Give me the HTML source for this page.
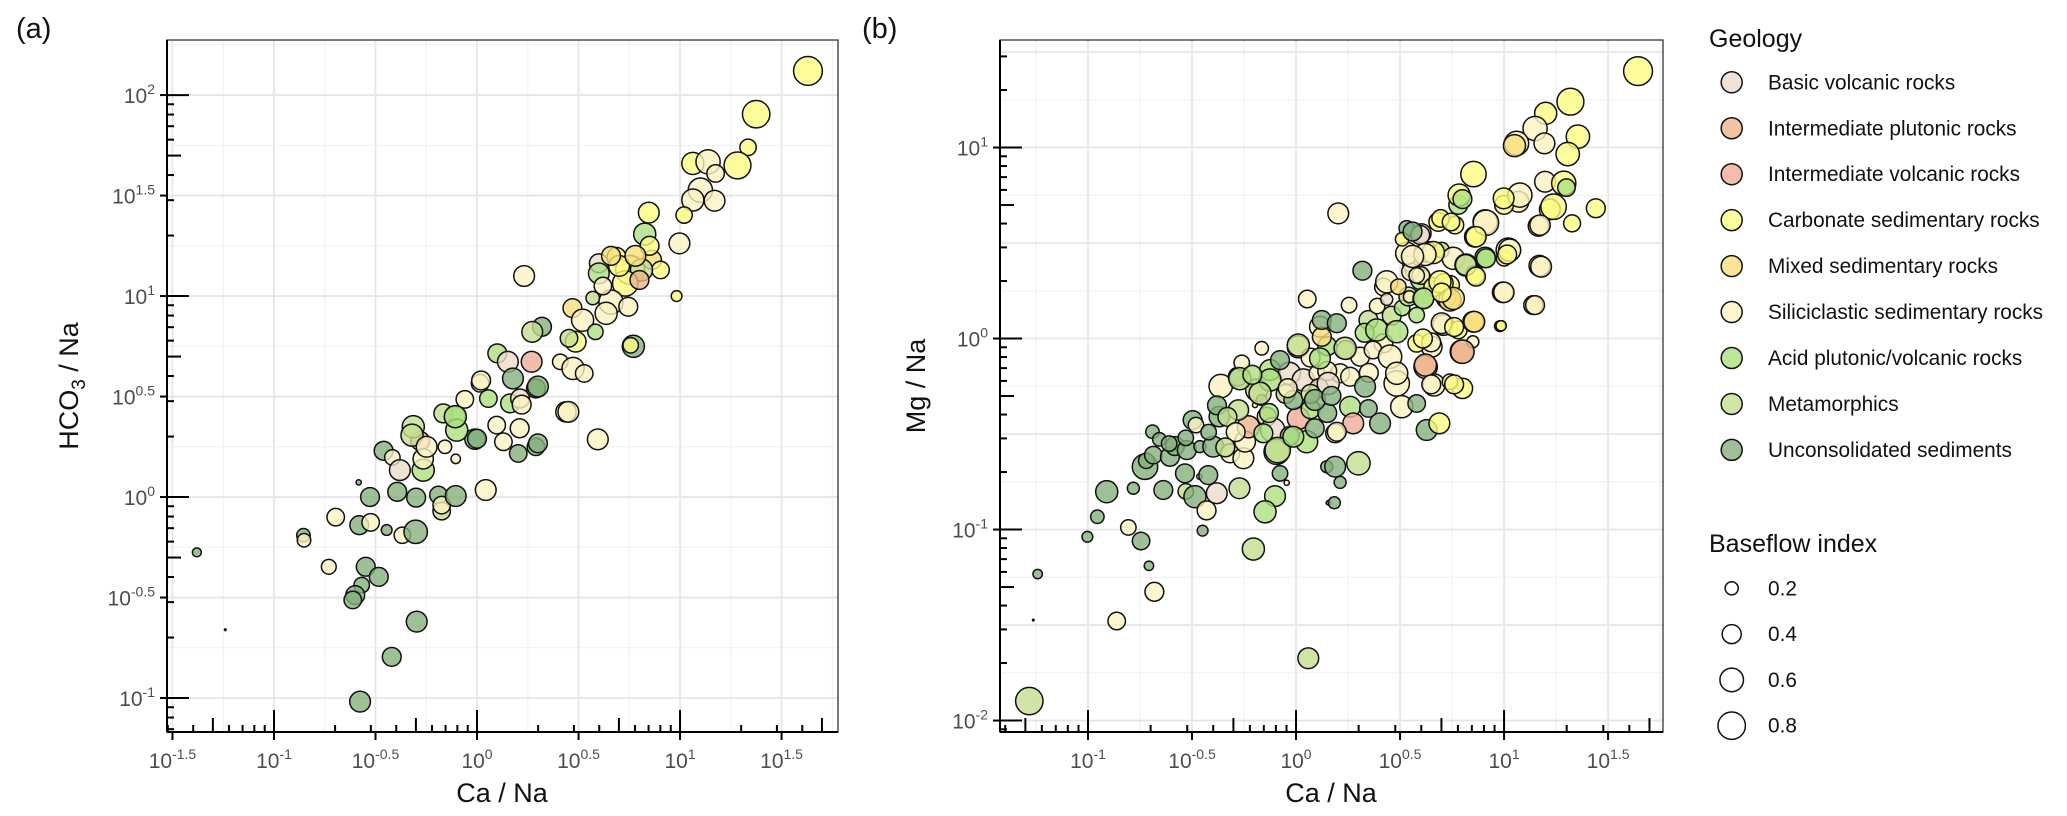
<!DOCTYPE html>
<html><head><meta charset="utf-8">
<style>
html,body{margin:0;padding:0;background:#fff;}
svg{display:block;font-family:"Liberation Sans",Arial,sans-serif;}
</style></head>
<body>
<svg id="chart" xmlns="http://www.w3.org/2000/svg" width="2067" height="816" viewBox="0 0 2067 816">
<rect x="0" y="0" width="2067" height="816" fill="#fff"/>
<g id="panelA"></g>
<g id="panelB"></g>
<g id="legend"></g>
</svg>
<script>
// ---------- DATA (log10 exponents of ratios) ----------
const geologyCategories = ["BV","IP","IV","C","Mx","S","A","M","U"];
const geologyLabels = ["Basic volcanic rocks","Intermediate plutonic rocks","Intermediate volcanic rocks","Carbonate sedimentary rocks","Mixed sedimentary rocks","Siliciclastic sedimentary rocks","Acid plutonic/volcanic rocks","Metamorphics","Unconsolidated sediments"];
const baseflowLegendValues = [0.2,0.4,0.6,0.8];
const xTicksA = [-1.5,-1,-0.5,0,0.5,1,1.5];
const yTicksA = [-1,-0.5,0,0.5,1,1.5,2];
const xTicksB = [-1,-0.5,0,0.5,1,1.5];
const yTicksB = [-2,-1,0,1];

// Panel (a): log10(Ca/Na), log10(HCO3/Na), baseflow index, geology
const aLogCaNa = [-1.38,-1.24,-0.855,-0.852,-0.696,-0.73,-0.58,-0.524,-0.445,-0.368,-0.302,-0.548,-0.484,-0.568,-0.60,-0.612,-0.297,-0.42,-0.576,-0.583,-0.527,-0.393,-0.30,-0.19,-0.174,-0.174,-0.105,0.043,-0.46,-0.417,-0.38,-0.265,-0.28,-0.265,-0.314,-0.32,-0.248,-0.158,-0.105,-0.01,-0.166,-0.108,-0.10,-0.06,0.056,0.13,0.097,0.21,0.203,0.29,0.438,0.163,0.212,0.29,0.015,
1.63,1.375,1.335,1.283,1.063,1.138,1.175,1.10,1.063,1.17,1.02,0.997,0.846,0.826,0.983,0.77,0.757,0.60,0.60,0.687,0.754,0.862,0.904,0.81,0.73,0.80,0.57,0.66,0.745,0.47,0.52,0.636,0.583,0.486,0.453,0.32,0.272,0.232,0.10,0.152,0.269,0.177,0.30,0.02,0.41,0.473,0.528,0.45,0.595,0.22,0.00,0.30,-0.107,
0.70,0.66,0.85,0.78,0.62];
const aLogHco3Na = [-0.275,-0.66,-0.19,-0.215,-0.10,-0.347,-0.14,-0.126,-0.164,-0.19,-0.173,-0.347,-0.397,-0.438,-0.488,-0.512,-0.62,-0.795,-1.018,0.073,0.0,0.026,-0.003,0.01,-0.07,-0.04,0.005,0.035,0.23,0.197,0.134,0.134,0.279,0.19,0.35,0.308,0.25,0.25,0.19,0.288,0.416,0.40,0.333,0.486,0.49,0.275,0.358,0.342,0.217,0.25,0.424,0.466,0.49,0.54,0.566,
2.12,1.905,1.74,1.65,1.66,1.668,1.61,1.527,1.478,1.474,1.403,1.262,1.415,1.308,1.0,0.75,0.755,1.163,1.113,1.195,1.13,1.18,1.13,1.13,1.063,1.08,0.99,0.97,0.947,0.94,0.88,0.914,0.822,0.773,0.79,0.847,0.822,1.1,0.715,0.673,0.673,0.59,0.55,0.58,0.673,0.64,0.615,0.424,0.287,0.46,0.29,0.267,0.40,
1.15,1.20,1.25,1.20,1.05];
const aBaseflow = [0.10,0.003,0.21,0.21,0.34,0.25,0.39,0.34,0.14,0.30,0.59,0.39,0.39,0.27,0.39,0.34,0.47,0.39,0.47,0.04,0.39,0.39,0.39,0.34,0.34,0.34,0.47,0.47,0.39,0.27,0.47,0.53,0.39,0.45,0.53,0.53,0.47,0.21,0.11,0.45,0.39,0.47,0.53,0.34,0.34,0.34,0.34,0.39,0.34,0.34,0.45,0.39,0.39,0.39,0.34,
0.88,0.80,0.30,0.77,0.53,0.63,0.34,0.63,0.53,0.47,0.30,0.47,0.47,0.53,0.14,0.53,0.27,0.39,0.47,0.39,0.88,0.39,0.34,0.53,0.69,0.39,0.21,0.63,0.39,0.39,0.53,0.53,0.27,0.47,0.34,0.39,0.47,0.47,0.39,0.47,0.47,0.47,0.47,0.39,0.27,0.53,0.34,0.47,0.47,0.39,0.39,0.39,0.53,
0.47,0.39,0.39,0.47,0.34];
const aGeology = ["U","U","U","S","S","S","U","S","U","S","U","U","U","U","U","U","U","U","U","U","U","U","U","U","M","S","U","S","U","S","BV","A","IV","S","M","M","S","S","S","U","M","A","A","S","A","S","S","S","U","U","S","A","BV","U","S",
"C","C","C","C","C","S","S","S","S","S","C","S","C","A","C","U","C","BV","A","C","C","Mx","C","M","C","IP","M","S","S","Mx","S","S","A","C","M","U","M","S","A","BV","IV","U","U","S","S","S","S","S","S","S","U","U","A",
"C","Mx","C","Mx","S"];

// Panel (b): log10(Ca/Na), log10(Mg/Na), baseflow index, geology
const bLogCaNa = [-1.282,-1.263,-1.242,-1.003,-0.955,-0.91,-0.782,-0.806,-0.745,-0.707,-0.681,-0.862,-0.449,-0.205,0.059,-0.726,-0.72,-0.69,-0.657,-0.686,-0.606,-0.582,-0.638,-0.534,-0.525,-0.497,-0.481,-0.462,-0.465,-0.422,-0.53,-0.486,-0.43,-0.381,-0.272,-0.369,-0.398,-0.317,-0.253,-0.245,-0.229,-0.277,-0.362,-0.28,-0.261,-0.165,-0.125,-0.189,-0.165,-0.197,-0.141,-0.112,-0.093,-0.077,-0.045,-0.101,-0.149,-0.032,0.035,0.011,0.051,0.011,-0.05,-0.077,0.148,0.155,
-0.125,-0.173,-0.157,-0.013,0.1,0.212,0.308,0.42,0.348,0.188,
-0.27,-0.21,-0.38,-0.33,-0.29,-0.34,-0.42,-0.53,-0.61,0.07,0.09,0.11,-0.03,0.15,-0.04,0.07,-0.13,0.15,0.26,0.35,0.33,0.15,0.07,0.24,0.37,0.46,0.39,0.51,0.60,0.42,0.74,0.72,0.56,0.55,0.55,0.60,0.66,0.71,0.54,
0.203,0.319,0.054,0.255,0.011,0.115,0.124,0.124,0.196,0.236,0.115,0.155,0.332,0.26,0.348,0.404,0.275,0.196,-0.088,0.188,0.30,0.212,0.184,0.388,0.484,0.452,0.484,0.508,0.58,0.628,0.689,0.623,0.663,0.797,0.80,0.74,0.652,0.58,0.708,0.78,0.852,0.85,0.98,0.436,0.492,0.436,0.545,0.612,0.58,0.532,0.628,0.604,0.532,0.51,0.684,0.764,0.70,0.756,0.817,0.86,0.909,0.86,0.909,0.692,0.74,1.02,1.0,0.994,1.14,1.17,1.165,1.22,1.069,1.00,0.78,0.58,0.484,0.091,0.17,-0.013,
1.644,1.319,1.2,1.355,1.149,1.194,1.06,1.05,1.306,0.853,1.197,1.287,1.30,1.238,1.076,0.998,1.441,1.173,1.327,0.784,0.80,0.913,0.865,0.695,0.745,0.597,0.56,0.913,0.816,0.865,1.027,1.015,1.178,0.999,1.149,0.986,0.756,0.613,0.70,0.857,0.70,0.76,0.8,0.622,0.65,0.61,0.76,0.65,0.66,0.62,0.56];
const bLogMgNa = [-1.898,-1.474,-1.233,-1.038,-0.933,-0.802,-0.784,-0.989,-1.06,-1.19,-1.326,-1.479,-1.006,-1.102,-1.674,-0.671,-0.64,-0.488,-0.528,-0.61,-0.619,-0.563,-0.793,-0.706,-0.584,-0.427,-0.453,-0.566,-0.723,-0.715,-0.80,-0.828,-0.90,-0.81,-0.784,-0.409,-0.566,-0.601,-0.627,-0.54,-0.462,-0.374,-0.249,-0.2,-0.127,-0.051,-0.165,-0.27,-0.322,-0.348,-0.409,-0.479,-0.593,-0.706,-0.755,-0.825,-0.907,-0.182,-0.217,-0.418,-0.54,-0.043,-0.29,-0.113,-0.671,-0.86,
-0.217,-0.287,-0.496,-0.322,-0.182,-0.182,-0.095,-0.025,0.097,-0.496,
-0.21,-0.19,-0.35,-0.41,-0.49,-0.57,-0.49,-0.52,-0.55,-0.37,-0.47,-0.26,-0.51,-0.17,-0.26,-0.29,-0.39,-0.39,-0.20,-0.18,0.03,-0.04,-0.10,-0.06,-0.06,0.12,0.17,0.16,0.31,0.27,0.28,0.21,0.36,0.39,0.35,0.33,0.27,0.29,0.22,
0.655,0.355,0.207,0.175,-0.034,0.062,0.009,0.097,0.08,-0.051,-0.104,-0.235,-0.252,-0.357,-0.366,-0.444,-0.444,-0.488,-0.584,-0.671,-0.653,-0.753,-0.86,0.045,0.036,-0.095,-0.235,-0.357,-0.34,-0.479,-0.444,-0.148,-0.243,-0.069,-0.261,-0.226,-0.043,-0.025,0.071,0.045,0.088,-0.017,0.065,0.297,0.271,0.205,0.219,0.21,0.123,0.446,0.454,0.551,0.577,0.52,0.611,0.594,0.463,0.42,0.385,0.533,0.611,0.332,0.425,0.297,0.202,0.463,0.42,0.242,0.175,0.381,0.589,0.676,0.716,0.70,0.70,0.33,-0.182,-0.322,-0.30,-0.514,
1.4,1.24,1.179,1.057,1.1,1.022,1.022,1.01,0.966,0.861,0.821,0.813,0.79,0.69,0.751,0.734,0.682,0.594,0.603,0.751,0.73,0.606,0.533,0.629,0.61,0.542,0.56,0.42,0.385,0.324,0.463,0.44,0.376,0.242,0.175,0.067,0.21,0.21,0.24,0.088,0.08,0.06,-0.069,-0.139,-0.02,0.0,-0.24,-0.24,0.45,0.44,0.43];
const bBaseflow = [0.80,0.002,0.11,0.14,0.21,0.53,0.17,0.27,0.34,0.11,0.39,0.34,0.14,0.53,0.47,0.69,0.27,0.21,0.21,0.34,0.39,0.39,0.39,0.39,0.39,0.39,0.27,0.17,0.04,0.39,0.27,0.53,0.39,0.47,0.47,0.45,0.47,0.39,0.47,0.47,0.53,0.45,0.59,0.39,0.27,0.21,0.47,0.53,0.14,0.04,0.39,0.63,0.69,0.27,0.04,0.47,0.53,0.53,0.53,0.53,0.53,0.53,0.39,0.39,0.17,0.03,
0.53,0.53,0.39,0.39,0.27,0.39,0.39,0.39,0.39,0.39,
0.53,0.39,0.39,0.39,0.39,0.39,0.27,0.27,0.27,0.39,0.39,0.39,0.39,0.39,0.39,0.39,0.39,0.39,0.39,0.39,0.39,0.39,0.39,0.39,0.34,0.39,0.27,0.27,0.47,0.34,0.39,0.39,0.27,0.27,0.34,0.34,0.39,0.39,0.39,
0.47,0.39,0.34,0.27,0.53,0.47,0.39,0.39,0.39,0.53,0.47,0.53,0.47,0.47,0.34,0.47,0.47,0.39,0.69,0.47,0.59,0.17,0.17,0.53,0.53,0.59,0.69,0.53,0.34,0.47,0.47,0.59,0.53,0.59,0.45,0.27,0.47,0.34,0.47,0.34,0.47,0.17,0.14,0.53,0.27,0.17,0.17,0.47,0.27,0.53,0.47,0.39,0.27,0.21,0.39,0.34,0.27,0.53,0.53,0.47,0.63,0.39,0.45,0.53,0.53,0.63,0.27,0.47,0.39,0.47,0.45,0.47,0.47,0.39,0.39,0.27,0.53,0.47,0.39,0.47,
0.88,0.77,0.53,0.59,0.63,0.47,0.63,0.53,0.59,0.69,0.47,0.63,0.34,0.69,0.63,0.47,0.39,0.45,0.32,0.53,0.39,0.69,0.45,0.34,0.34,0.39,0.39,0.39,0.47,0.39,0.53,0.39,0.47,0.45,0.39,0.13,0.53,0.45,0.39,0.47,0.47,0.39,0.59,0.53,0.39,0.39,0.39,0.39,0.53,0.53,0.53];
const bGeology = ["M","U","U","U","U","U","U","S","U","U","S","S","U","M","M","U","U","U","U","U","U","U","U","U","U","U","S","U","S","U","M","U","S","BV","M","U","U","S","S","S","IP","M","S","U","S","S","A","M","U","C","M","BV","A","U","S","A","A","BV","BV","IV","A","S","M","U","U","U",
"A","M","A","U","S","S","S","S","M","S",
"M","A","U","M","S","M","U","U","U","A","U","BV","U","S","S","M","A","U","S","S","A","A","S","M","S","M","S","A","A","S","C","C","S","S","S","S","C","C","M",
"S","U","S","S","M","S","Mx","U","U","M","A","BV","U","A","U","U","IV","S","M","U","M","U","U","A","A","S","S","S","U","U","C","IP","S","IP","C","S","S","C","S","C","Mx","S","C","S","Mx","BV","S","A","A","S","S","BV","U","C","C","C","A","S","M","C","S","C","A","C","Mx","S","Mx","S","S","S","S","C","S","C","A","S","S","U","U","A",
"C","C","C","C","S","S","S","Mx","C","C","S","C","A","C","S","C","C","S","C","C","A","S","C","C","C","BV","U","A","M","C","S","C","S","S","S","C","Mx","A","C","Mx","S","C","IP","IP","S","C","C","S","C","S","S"];

// ---------- STYLE ----------
const geoColor = {BV:"#ecdccb",IP:"#eeb58e",IV:"#f0ad98",C:"#fcfb82",Mx:"#f7de7a",S:"#fbf3c2",A:"#ade07f",M:"#c4df8e",U:"#84b07c"};
const NS="http://www.w3.org/2000/svg";
function el(tag, attrs, parent){const e=document.createElementNS(NS,tag);for(const k in attrs)e.setAttribute(k,attrs[k]);if(parent)parent.appendChild(e);return e;}
function rOf(b){return Math.max(0.8,16*Math.sqrt(b)-0.6);}

function supLabel(parent,x,y,exp,anchor){
  const t=el("text",{x:x,y:y,"text-anchor":anchor,fill:"#4d4d4d","font-size":"21"},parent);
  
  
  const a=el("tspan",{},t);a.textContent="10";
  const b=el("tspan",{dy:"-9","font-size":"14"},t);b.textContent=String(exp);
  return t;
}

function drawPanel(g,cfg){
  const {L,R,T,B,xmin,xmax,ymin,ymax,xTicks,yTicks}=cfg;
  const sx=v=>L+(v-xmin)/(xmax-xmin)*(R-L);
  const sy=v=>B-(v-ymin)/(ymax-ymin)*(B-T);
  const grid=el("g",{},g);
  
  
  for(let v=Math.ceil(xmin*4)/4; v<=xmax; v+=0.25){
    const major=Math.abs(v*2-Math.round(v*2))<1e-6;
    el("line",{x1:sx(v),x2:sx(v),y1:T,y2:B,stroke:major?"#e6e6e6":"#efefef","stroke-width":major?1.8:1},grid);
  }
  for(let v=Math.ceil(ymin*4)/4; v<=ymax; v+=0.25){
    const major=Math.abs(v*2-Math.round(v*2))<1e-6;
    el("line",{x1:L,x2:R,y1:sy(v),y2:sy(v),stroke:major?"#e6e6e6":"#efefef","stroke-width":major?1.8:1},grid);
  }
  const border=el("rect",{x:L,y:T,width:R-L,height:B-T,fill:"none",stroke:"#333","stroke-width":1.3},g);
  
  
  const pts=el("g",{},g);
  
  
  for(let i=0;i<cfg.xs.length;i++){
    const c=el("circle",{cx:sx(cfg.xs[i]),cy:sy(cfg.ys[i]),r:rOf(cfg.bf[i]),fill:geoColor[cfg.geo[i]],"fill-opacity":0.8,stroke:"#111","stroke-width":1.5},pts);
    
    
  }
  const ax=el("g",{stroke:"#000","stroke-width":2},g);
  
  
  el("line",{x1:L,x2:R,y1:B,y2:B},ax);
  el("line",{x1:L,x2:L,y1:T,y2:B},ax);
  for(let d=Math.floor(xmin);d<=Math.ceil(xmax);d++){for(let k=1;k<=9;k++){const v=d+Math.log10(k);if(v<xmin||v>xmax)continue;const len=k==1?22:(k==5?14:7);el("line",{x1:sx(v),x2:sx(v),y1:B,y2:B-len},ax);}}
  for(let d=Math.floor(ymin);d<=Math.ceil(ymax);d++){for(let k=1;k<=9;k++){const v=d+Math.log10(k);if(v<ymin||v>ymax)continue;const len=k==1?22:(k==5?14:7);el("line",{x1:L,x2:L+len,y1:sy(v),y2:sy(v)},ax);}}
  xTicks.forEach(v=>{el("line",{x1:sx(v),x2:sx(v),y1:B,y2:B+8},ax);supLabel(g,sx(v),768,v,"middle");});
  yTicks.forEach(v=>{el("line",{x1:L-7,x2:L,y1:sy(v),y2:sy(v)},ax);supLabel(g,L-12,sy(v)+8,v,"end");});
}

const A=document.getElementById("panelA");
drawPanel(A,{L:167,R:838,T:40,B:732,xmin:-1.527,xmax:1.778,ymin:-1.169,ymax:2.274,xTicks:xTicksA,yTicks:yTicksA,xs:aLogCaNa,ys:aLogHco3Na,bf:aBaseflow,geo:aGeology});
const B=document.getElementById("panelB");
drawPanel(B,{L:1000,R:1663,T:40,B:732,xmin:-1.423,xmax:1.764,ymin:-2.06,ymax:1.563,xTicks:xTicksB,yTicks:yTicksB,xs:bLogCaNa,ys:bLogMgNa,bf:bBaseflow,geo:bGeology});

function txt(parent,x,y,s,size,name,extra){const t=el("text",Object.assign({x:x,y:y,"font-size":size,fill:"#111"},extra||{}),parent);t.textContent=s;return t;}
txt(A,16,38,"(a)",29,"panel-label-a");
txt(B,862,38,"(b)",29,"panel-label-b");
txt(A,502,802,"Ca / Na",27,"x-axis-title-a",{"text-anchor":"middle"});
txt(B,1331,802,"Ca / Na",27,"x-axis-title-b",{"text-anchor":"middle"});
const ya=el("text",{x:0,y:0,"font-size":27,fill:"#111","text-anchor":"middle",transform:"translate(78,386) rotate(-90)"},A);


ya.innerHTML='HCO<tspan font-size="19" dy="7">3</tspan><tspan dy="-7"> / Na</tspan>';
const yb=el("text",{x:0,y:0,"font-size":27,fill:"#111","text-anchor":"middle",transform:"translate(925,386) rotate(-90)"},B);


yb.textContent="Mg / Na";

const Lg=document.getElementById("legend");
txt(Lg,1709,47,"Geology",25,"legend-title-geology");
geologyCategories.forEach((g,i)=>{
  const y=82.3+i*45.95;
  const c=el("circle",{cx:1731.7,cy:y,r:10.5,fill:geoColor[g],"fill-opacity":0.8,stroke:"#111","stroke-width":1.5},Lg);
  
  
  txt(Lg,1768,y+7,geologyLabels[i],20.8,"legend-entry-"+g);
});
txt(Lg,1709,552,"Baseflow index",25,"legend-title-baseflow");
baseflowLegendValues.forEach((b,i)=>{
  const y=588.3+i*45.8;
  const c=el("circle",{cx:1731.7,cy:y,r:rOf(b),fill:"#fff",stroke:"#111","stroke-width":1.5},Lg);
  
  
  txt(Lg,1768,y+7,String(b),20.8,"legend-size-entry");
});
</script>
</body></html>
